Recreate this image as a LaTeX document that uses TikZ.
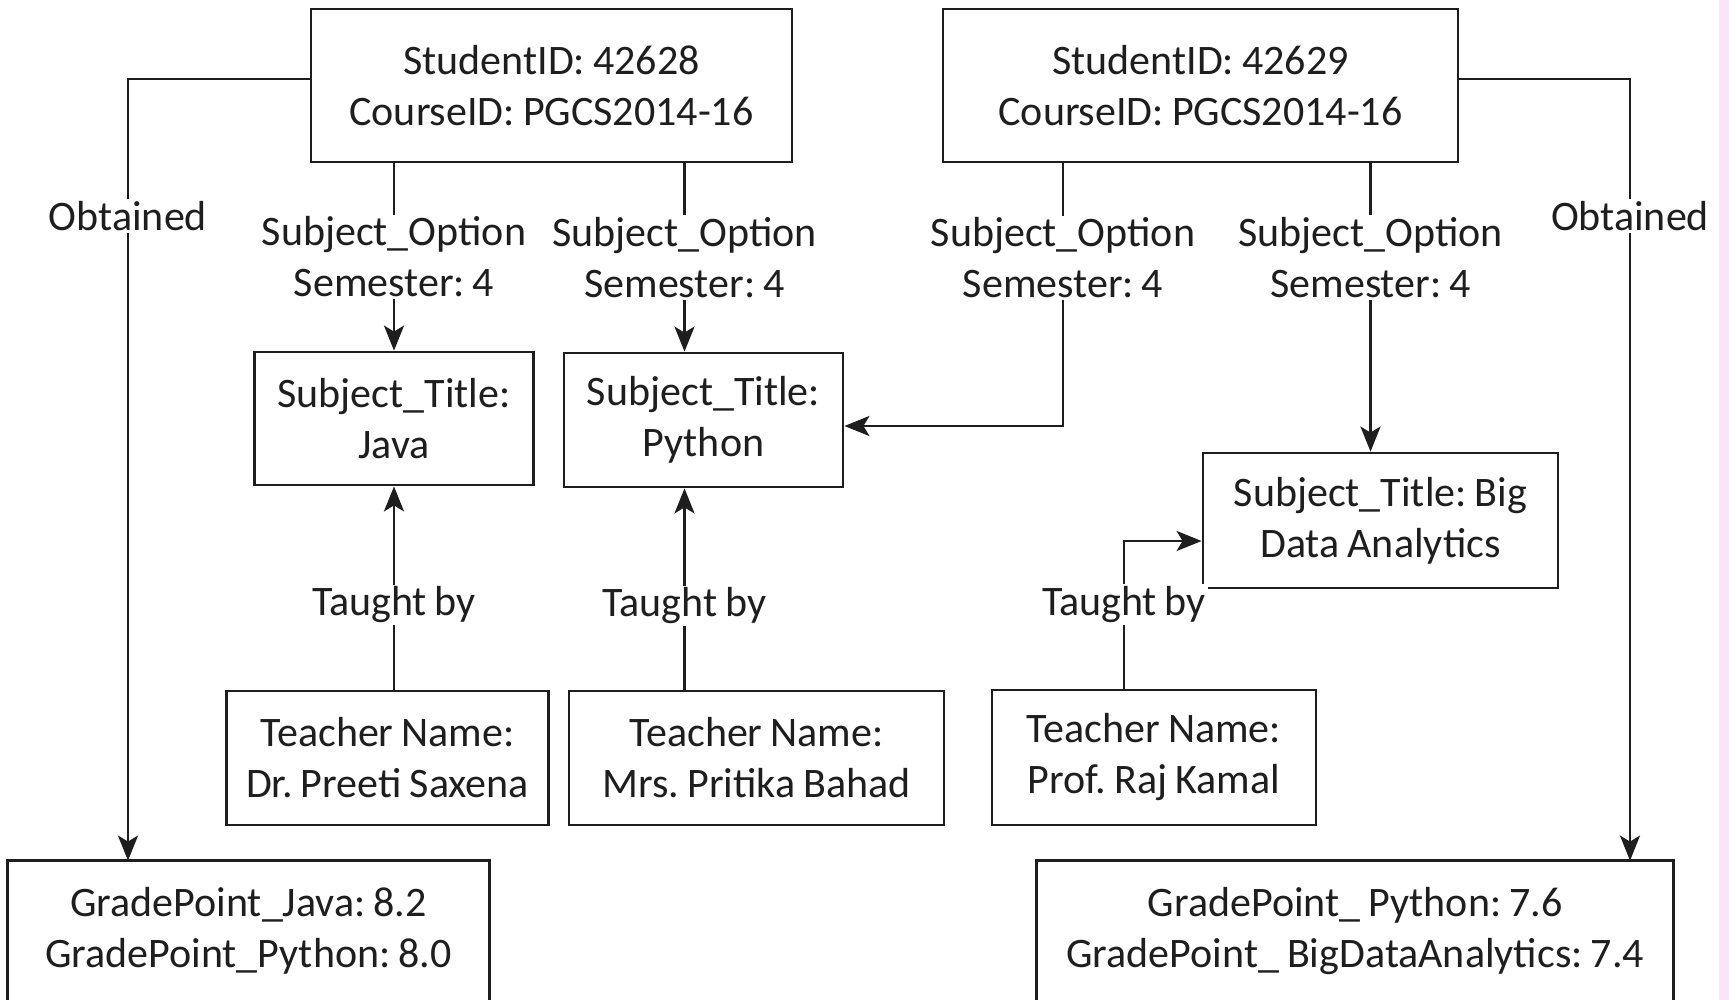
\documentclass[tikz,border=0pt]{standalone}
\usepackage{fontspec}
\setmainfont{Carlito}[WordSpace=0.85]
\usetikzlibrary{arrows.meta}
\definecolor{ink}{RGB}{30,30,30}
\definecolor{pinkstrip}{RGB}{250,228,250}
\begin{document}
\frenchspacing
\begin{tikzpicture}[x=1pt,y=-1pt,
 box/.style={draw=ink, line width=2.8pt, inner sep=0pt, align=center, text=ink, font=\fontsize{42}{51}\selectfont\frenchspacing},
 lbl/.style={fill=white, inner sep=2pt, align=center, text=ink, font=\fontsize{42}{51}\selectfont\frenchspacing},
 conn/.style={draw=ink, line width=2.6pt},
 arr/.style={conn, -{Stealth[length=25pt,width=20pt,inset=6pt]}}]
\useasboundingbox (0,0) rectangle (1729,1000);
\fill[white] (0,0) rectangle (1729,1000);
\fill[pinkstrip] (1719,0) rectangle (1729,1000);

\node[box, minimum width=481pt, minimum height=153pt] (s1) at (551.5,85.5) {StudentID: 42628\\CourseID: PGCS2014-16};
\node[box, minimum width=515pt, minimum height=153pt] (s2) at (1200.5,85.5) {StudentID: 42629\\CourseID: PGCS2014-16};
\node[box, minimum width=279pt, minimum height=133pt] (java) at (394,418.5) {Subject\_Title:\\Java};
\node[box, minimum width=279pt, minimum height=134pt] (python) at (703.5,420) {Subject\_Title:\\Python};
\node[box, minimum width=355pt, minimum height=135pt] (bda) at (1380.5,520.5) {Subject\_Title: Big\\Data Analytics};
\node[box, minimum width=322pt, minimum height=134pt] (t1) at (387.5,758) {Teacher Name:\\Dr. Preeti Saxena};
\node[box, minimum width=375pt, minimum height=134pt] (t2) at (756.5,758) {Teacher Name:\\Mrs. Pritika Bahad};
\node[box, minimum width=324pt, minimum height=135pt] (t3) at (1154,757.5) {Teacher Name:\\Prof. Raj Kamal};
\node[box, draw=none, minimum width=479pt, minimum height=138pt] (g1) at (248.5,931) {GradePoint\_Java: 8.2\\GradePoint\_Python: 8.0};
\node[box, draw=none, minimum width=634pt, minimum height=138pt] (g2) at (1355.25,931) {GradePoint\_ Python: 7.6\\GradePoint\_ BigDataAnalytics: 7.4};
\draw[ink, line width=2.8pt] ([yshift=-60pt]g1.south west) |- (g1.north east) -- ([yshift=-60pt]g1.south east);
\draw[ink, line width=2.8pt] ([yshift=-60pt]g2.south west) |- (g2.north east) -- ([yshift=-60pt]g2.south east);

\coordinate (pyin) at ([xshift=-19pt]python.north);
\coordinate (pyout) at ([xshift=-19pt]python.south);
\coordinate (o3) at ([xshift=-137.5pt]s2.south);
\coordinate (o4) at ([xshift=170pt]s2.south);

\draw[arr] ([yshift=6.5pt]s1.west) -| node[lbl, pos=0.5875]{Obtained} ([xshift=-120.5pt]g1.north);
\draw[arr] ([yshift=6.5pt]s2.east) -| node[lbl, pos=0.5875]{Obtained} ([xshift=274.75pt]g2.north);

\draw[arr] (java.north |- s1.south) -- node[lbl]{Subject\_Option\\Semester: 4} (java.north);
\draw[arr] (pyin |- s1.south) -- node[lbl]{Subject\_Option\\Semester: 4} (pyin);
\draw[arr] (o3) |- node[lbl, pos=0.18]{Subject\_Option\\Semester: 4} ([yshift=-6pt]python.east);
\draw[arr] (o4) -- node[lbl, pos=0.326]{Subject\_Option\\Semester: 4} (o4 |- bda.north);

\draw[arr] (java.south |- t1.north) -- node[lbl, pos=0.417]{Taught by} (java.south);
\draw[arr] (pyout |- t2.north) -- node[lbl, pos=0.417]{Taught by} (pyout);
\draw[arr] ([xshift=-30pt]t3.north) |- node[lbl, pos=0.285]{Taught by} ([yshift=-20.5pt]bda.west);
\end{tikzpicture}
\end{document}
